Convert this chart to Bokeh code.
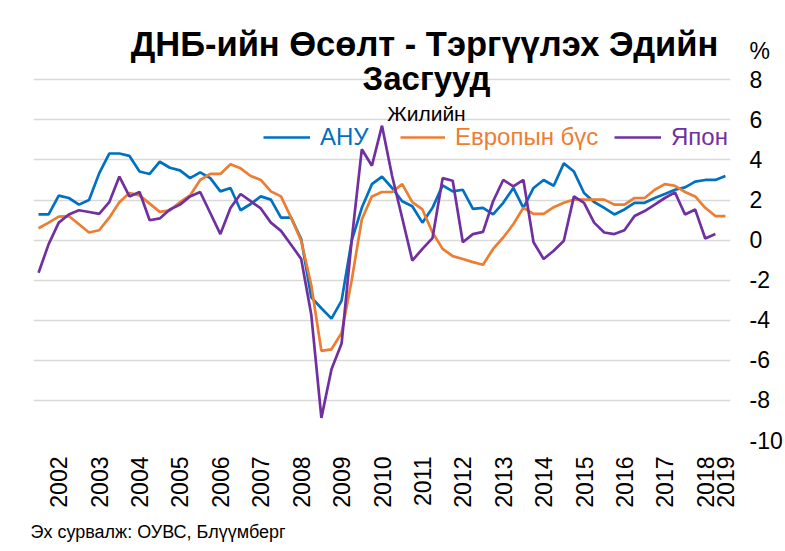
import math
from bokeh.plotting import figure
from bokeh.models import FixedTicker, Label, Legend, LegendItem, Title
from bokeh.embed import file_html
from bokeh.resources import INLINE

# quarterly observations, index 0..68
quarters = list(range(69))

tick_positions = [2, 6, 10, 14, 18, 22, 26, 30, 34, 38, 42, 46, 50, 54, 58, 62, 66, 68]
tick_labels = ["2002", "2003", "2004", "2005", "2006", "2007", "2008", "2009", "2010",
               "2011", "2012", "2013", "2014", "2015", "2016", "2017", "2018", "2019"]

y_ticks = [-10, -8, -6, -4, -2, 0, 2, 4, 6, 8]
y_tick_labels = ["-10", "-8", "-6", "-4", "-2", "0", "2", "4", "6", "8"]
unit_label = "%"
unit_label_pos = 9.44

usa = [1.28, 1.28, 2.22, 2.10, 1.77, 2.0, 3.33, 4.32, 4.32, 4.2, 3.42, 3.3, 3.91, 3.61, 3.48, 3.09, 3.38, 3.09, 2.43, 2.6,
       1.49, 1.8, 2.18, 2.02, 1.12, 1.12, 0.05, -2.86, -3.4, -3.92, -3.02, -0.03, 1.61, 2.79, 3.17, 2.6, 1.94, 1.69,
       0.87, 1.61, 2.73, 2.43, 2.51, 1.56, 1.61, 1.28, 1.86, 2.6, 1.61, 2.6, 3.0, 2.71, 3.83, 3.42, 2.35, 1.9,
       1.61, 1.28, 1.53, 1.86, 1.86, 2.1, 2.3, 2.51, 2.63, 2.92, 3.0, 3.0, 3.2]

euro = [0.59, 0.87, 1.17, 1.2, 0.79, 0.38, 0.49, 1.12, 1.89, 2.35, 2.23, 1.82, 1.41, 1.48, 1.9, 2.23, 3.0, 3.3, 3.3, 3.78,
        3.58, 3.2, 3.0, 2.43, 2.18, 1.12, -0.03, -2.25, -5.53, -5.45, -4.63, -2.0, 1.03, 2.18, 2.4, 2.4, 2.79, 1.89,
        1.53, 0.38, -0.44, -0.8, -0.94, -1.1, -1.23, -0.44, 0.13, 0.79, 1.61, 1.31, 1.31, 1.64, 1.86, 2.02, 2.02, 2.02,
        2.02, 1.77, 1.77, 2.1, 2.1, 2.51, 2.79, 2.71, 2.4, 2.18, 1.61, 1.2, 1.2]

japan = [-1.63, -0.2, 0.87, 1.28, 1.49, 1.4, 1.31, 1.89, 3.17, 2.18, 2.4, 0.99, 1.08, 1.53, 1.77, 2.18, 2.4, 1.35, 0.3, 1.6,
         2.3, 1.94, 1.58, 0.87, 0.46, -0.23, -0.94, -3.73, -8.87, -6.44, -5.16, 0.0, 4.53, 3.71, 5.71, 3.2, 1.1, -1.02,
         -0.44, 0.1, 3.09, 2.96, -0.11, 0.3, 0.41, 1.94, 3.0, 2.68, 3.0, -0.11, -0.94, -0.53, -0.03, 2.18, 1.86, 0.87,
         0.38, 0.3, 0.49, 1.2, 1.45, 1.77, 2.1, 2.38, 1.28, 1.53, 0.08, 0.3, float("nan")]

series_names = ["АНУ", "Европын бүс", "Япон"]
series_colors = ["#0070C0", "#ED7D31", "#7030A0"]

FONT = "Liberation Sans"

p = figure(width=785, height=551, output_backend="svg", toolbar_location=None, title=None,
           x_range=(-0.5, 68.5), y_range=(-10, 11.955), y_axis_location="right",
           min_border_left=33, min_border_right=53, min_border_top=0, min_border_bottom=105)
p.outline_line_color = None
p.background_fill_color = "white"
p.border_fill_color = "white"

grid_ticker = FixedTicker(ticks=y_ticks)
p.ygrid.ticker = grid_ticker
p.ygrid.grid_line_color = "#D9D9D9"
p.ygrid.grid_line_width = 1.3
p.xgrid.visible = False

axis_overrides = dict(zip(y_ticks, y_tick_labels))
axis_overrides[unit_label_pos] = unit_label
p.yaxis.ticker = FixedTicker(ticks=y_ticks + [unit_label_pos])
p.yaxis.major_label_overrides = axis_overrides
p.yaxis.axis_line_color = None
p.yaxis.major_tick_line_color = None
p.yaxis.minor_tick_line_color = None
p.yaxis.major_tick_out = 0
p.yaxis.major_tick_in = 0
p.yaxis.major_label_text_font = FONT
p.yaxis.major_label_text_font_size = "23px"
p.yaxis.major_label_text_color = "black"
p.yaxis.major_label_standoff = 19

p.xaxis.ticker = FixedTicker(ticks=tick_positions)
p.xaxis.major_label_overrides = dict(zip(tick_positions, tick_labels))
p.xaxis.major_label_orientation = math.pi / 2
p.xaxis.axis_line_color = None
p.xaxis.major_tick_line_color = None
p.xaxis.minor_tick_line_color = None
p.xaxis.major_tick_out = 0
p.xaxis.major_tick_in = 0
p.xaxis.major_label_text_font = FONT
p.xaxis.major_label_text_font_size = "23px"
p.xaxis.major_label_text_color = "black"
p.xaxis.major_label_standoff = 16

renderers = []
for vals, color in zip([usa, euro, japan], series_colors):
    r = p.line(quarters, vals, line_color=color, line_width=2.7)
    renderers.append(r)

legend_x = [230, 367, 581]
glyph_w = [47, 45, 47]
for r, name, color, lx, gw in zip(renderers, series_names, series_colors, legend_x, glyph_w):
    lg = Legend(items=[LegendItem(label=name, renderers=[r])], location=(lx, 289),
                orientation="horizontal", label_text_color=color, label_text_font=FONT,
                label_text_font_size="24px", glyph_width=gw, glyph_height=20, label_standoff=10,
                padding=0, margin=0, spacing=0, border_line_color=None, background_fill_alpha=0)
    p.add_layout(lg)

p.add_layout(Label(x=391, y=397, x_units="screen", y_units="screen", text="ДНБ-ийн Өсөлт - Тэргүүлэх Эдийн",
                   text_align="center", text_baseline="alphabetic", text_font=FONT, text_font_size="34.5px",
                   text_font_style="bold", text_color="black"))
p.add_layout(Label(x=393, y=362, x_units="screen", y_units="screen", text="Засгууд",
                   text_align="center", text_baseline="alphabetic", text_font=FONT, text_font_size="33px",
                   text_font_style="bold", text_color="black"))
p.add_layout(Label(x=393, y=327, x_units="screen", y_units="screen", text="Жилийн",
                   text_align="center", text_baseline="alphabetic", text_font=FONT, text_font_size="21px",
                   text_color="black"))

source = Title(text="Эх сурвалж: ОУВС, Блүүмберг", align="left", offset=-3, standoff=19,
               text_font=FONT, text_font_size="18px", text_font_style="normal", text_color="black")
p.add_layout(source, "below")

open("out.html", "w").write(file_html(p, INLINE))
